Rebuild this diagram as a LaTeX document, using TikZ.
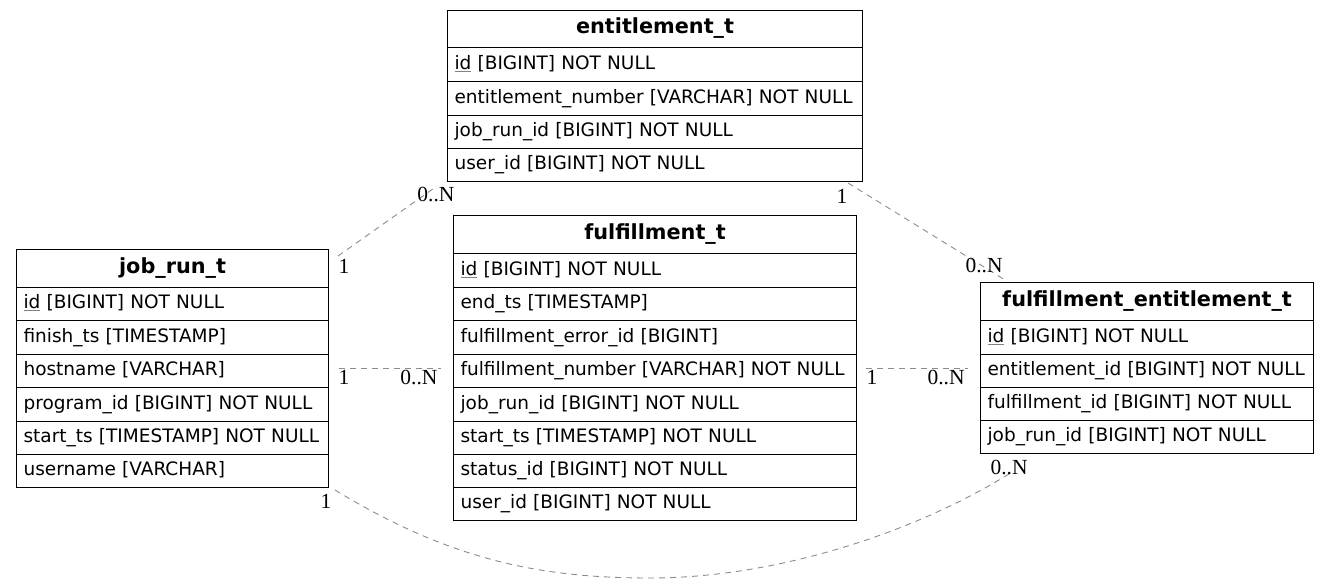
\documentclass[tikz,border=0pt]{standalone}
\usepackage{fontspec}
\setmainfont{DejaVu Sans}
\newfontfamily\lblfont{Liberation Serif}
\usetikzlibrary{calc}
\newcommand\ulid[1]{\setbox0\hbox{#1}\rlap{\color{gray}\rule[-2.4pt]{\wd0}{0.9pt}}#1}
\begin{document}
\begin{tikzpicture}[x=1pt,y=-1pt,
  hdr/.style={draw=black,line width=1.1pt,anchor=north west,minimum height=#1,inner sep=0pt,
    font=\fontsize{20.8}{24}\selectfont\bfseries,text height=14pt,text depth=4.5pt},
  cell/.style={draw=black,line width=1.1pt,anchor=north west,minimum height=#1,inner xsep=7pt,inner ysep=0pt,
    align=left,font=\fontsize{18.5}{22}\selectfont,text height=13pt,text depth=4pt},
  rel/.style={draw=black!45,dash pattern=on 6pt off 5pt,line width=0.9pt},
  card/.style={font=\lblfont\fontsize{21.5}{23}\selectfont,inner sep=0pt}]
\useasboundingbox (0,0) rectangle (1329,583);
% entitlement_t
\node[hdr=37pt,minimum width=415pt] (ent) at (447,10) {entitlement\_t};
\node[cell=34pt,text width=401pt] (ent1) at (447,47) {\ulid{id} [BIGINT] NOT NULL};
\node[cell=34pt,text width=401pt] (ent2) at (447,81) {entitlement\_number [VARCHAR] NOT NULL};
\node[cell=33pt,text width=401pt] (ent3) at (447,115) {job\_run\_id [BIGINT] NOT NULL};
\node[cell=33pt,text width=401pt] (ent4) at (447,148) {user\_id [BIGINT] NOT NULL};
% fulfillment_t
\node[hdr=38pt,minimum width=403pt] (ful) at (453,215) {fulfillment\_t};
\node[cell=34pt,text width=389pt] (ful1) at (453,253) {\ulid{id} [BIGINT] NOT NULL};
\node[cell=33pt,text width=389pt] (ful2) at (453,287) {end\_ts [TIMESTAMP]};
\node[cell=34pt,text width=389pt] (ful3) at (453,320) {fulfillment\_error\_id [BIGINT]};
\node[cell=33pt,text width=389pt] (ful4) at (453,354) {fulfillment\_number [VARCHAR] NOT NULL};
\node[cell=34pt,text width=389pt] (ful5) at (453,387) {job\_run\_id [BIGINT] NOT NULL};
\node[cell=33pt,text width=389pt] (ful6) at (453,421) {start\_ts [TIMESTAMP] NOT NULL};
\node[cell=33pt,text width=389pt] (ful7) at (453,454) {status\_id [BIGINT] NOT NULL};
\node[cell=33pt,text width=389pt] (ful8) at (453,487) {user\_id [BIGINT] NOT NULL};
% job_run_t
\node[hdr=38pt,minimum width=312pt] (job) at (16,249) {job\_run\_t};
\node[cell=33pt,text width=298pt] (job1) at (16,287) {\ulid{id} [BIGINT] NOT NULL};
\node[cell=34pt,text width=298pt] (job2) at (16,320) {finish\_ts [TIMESTAMP]};
\node[cell=33pt,text width=298pt] (job3) at (16,354) {hostname [VARCHAR]};
\node[cell=34pt,text width=298pt] (job4) at (16,387) {program\_id [BIGINT] NOT NULL};
\node[cell=33pt,text width=298pt] (job5) at (16,421) {start\_ts [TIMESTAMP] NOT NULL};
\node[cell=33pt,text width=298pt] (job6) at (16,454) {username [VARCHAR]};
% fulfillment_entitlement_t
\node[hdr=38pt,minimum width=333pt] (fe) at (980,282) {fulfillment\_entitlement\_t};
\node[cell=34pt,text width=319pt] (fe1) at (980,320) {\ulid{id} [BIGINT] NOT NULL};
\node[cell=33pt,text width=319pt] (fe2) at (980,354) {entitlement\_id [BIGINT] NOT NULL};
\node[cell=33pt,text width=319pt] (fe3) at (980,387) {fulfillment\_id [BIGINT] NOT NULL};
\node[cell=33pt,text width=319pt] (fe4) at (980,420) {job\_run\_id [BIGINT] NOT NULL};
% connector ends
\coordinate (a1) at (338,256);
\coordinate (b1) at (437,186);
\coordinate (a2) at (848,183);
\coordinate (b2) at (1005,280);
\coordinate (a3) at (339,368);
\coordinate (b3) at (441,368);
\coordinate (a4) at (866,368);
\coordinate (b4) at (968,368);
\coordinate (a5) at (335,490);
\coordinate (m5) at (650,578);
\coordinate (b5) at (1012,472);
% connectors
\draw[rel] (a1) -- (b1);
\draw[rel] (a2) -- (b2);
\draw[rel] (a3) -- (b3);
\draw[rel] (a4) -- (b4);
\draw[rel] (a5) .. controls (450,560) and (540,578) .. (m5) .. controls (780,578) and (920,530) .. (b5);
% cardinalities
\node[card] (l1a) at (344,266) {1};
\node[card] (l1b) at (436,195) {0..N};
\node[card] (l2a) at (842,196) {1};
\node[card] (l2b) at (984,266) {0..N};
\node[card] (l3a) at (344,377) {1};
\node[card] (l3b) at (419,377) {0..N};
\node[card] (l4a) at (872,377) {1};
\node[card] (l4b) at (946,377) {0..N};
\node[card] (l5a) at (326,501) {1};
\node[card] (l5b) at (1009,467) {0..N};
\end{tikzpicture}
\end{document}
